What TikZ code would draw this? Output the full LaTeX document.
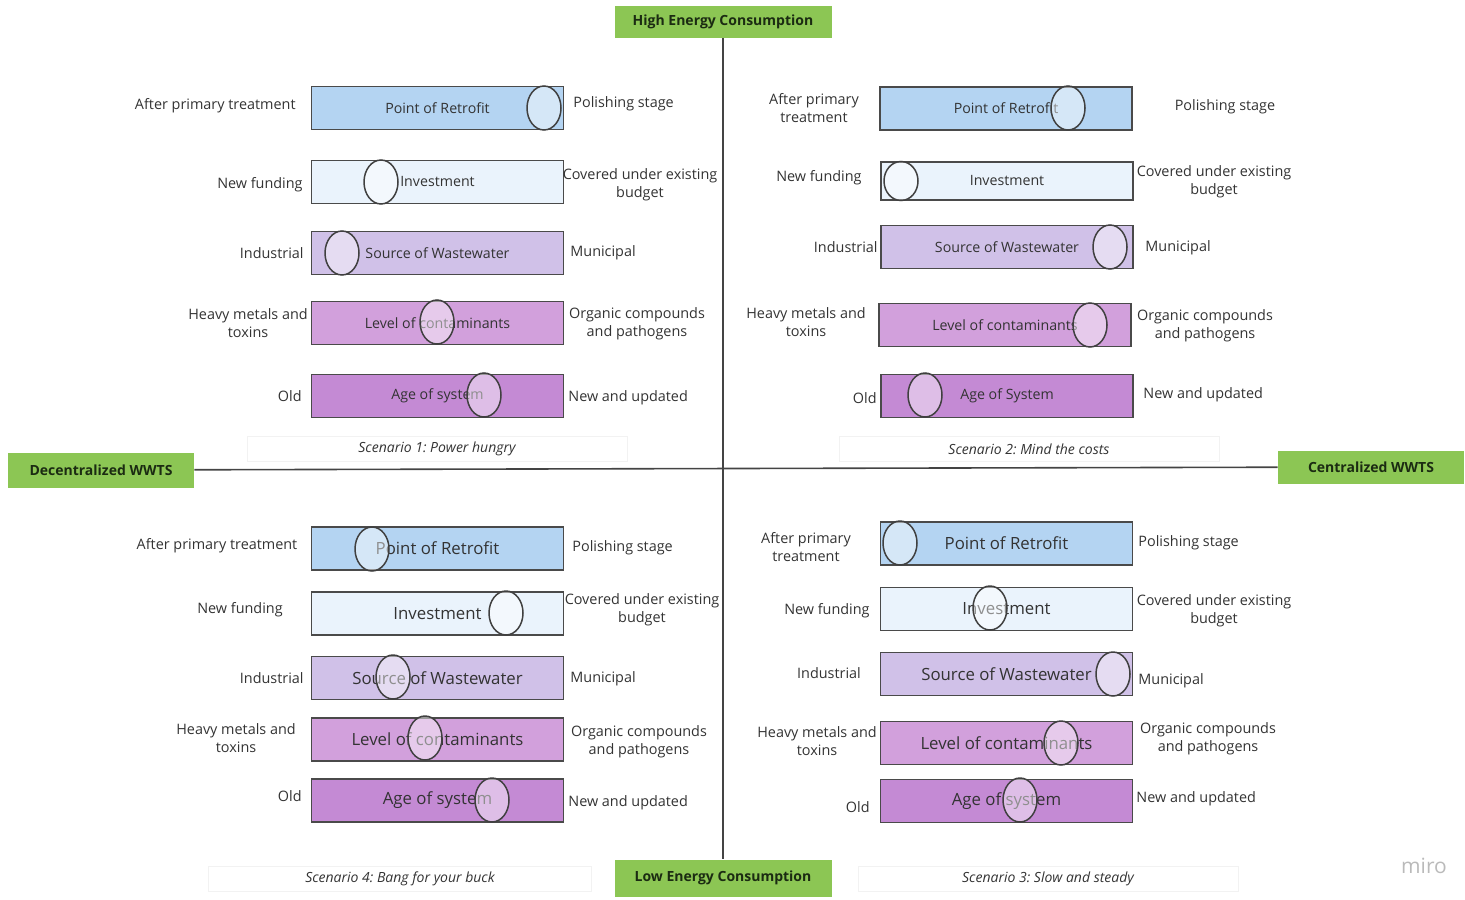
\documentclass[tikz,border=0pt]{standalone}
\usepackage{fontspec}
\setmainfont{Open Sans}
\usepackage{tikz}
\usetikzlibrary{shapes.geometric}
\frenchspacing

\definecolor{axgreen}{HTML}{8CC654}
\definecolor{axtext}{HTML}{1B2B12}
\definecolor{axisgrey}{HTML}{444444}
\definecolor{barline}{HTML}{4A4A4A}
\definecolor{bartext}{HTML}{333333}
\definecolor{retro}{HTML}{B4D4F2}
\definecolor{invest}{HTML}{EAF3FC}
\definecolor{source}{HTML}{D0C1E8}
\definecolor{level}{HTML}{D2A0DC}
\definecolor{age}{HTML}{C48AD4}

\begin{document}
\begin{tikzpicture}[x=0.5pt,y=-0.5pt,
	axisbox/.style={shape=rectangle,fill=axgreen,text=axtext,font=\fontsize{7}{8}\selectfont\bfseries,minimum width=108.5pt,minimum height=16pt,inner sep=0pt},
	axis/.style={draw=axisgrey,line width=0.8pt},
	bar/.style={shape=rectangle,draw=barline,line width=0.7pt,text=bartext,minimum width=126pt,minimum height=21.5pt,inner sep=0pt},
	small/.style={font=\fontsize{7.1}{8}\selectfont},
	big/.style={font=\fontsize{8.4}{10}\selectfont},
	knob/.style={shape=ellipse,draw=black!75,line width=0.75pt,fill=white,fill opacity=0.45,minimum width=17pt,minimum height=22pt,inner sep=0pt},
	lbl/.style={text=bartext,font=\fontsize{7.2}{9}\selectfont,align=center,inner sep=0pt},
	scen/.style={shape=rectangle,draw=black!5,text=bartext,font=\fontsize{7}{8}\selectfont\itshape,minimum width=190pt,minimum height=12.5pt,inner sep=0pt}]
	
	\useasboundingbox (0,0) rectangle (1465,899);
	
	% axes
	\node[axisbox] (high) at (723, 22)     {High Energy Consumption};
	\node[axisbox,minimum height=18.5pt] (low) at (723, 878)     {Low Energy Consumption};
	\node[axisbox,minimum width=93pt,minimum height=17.5pt] (dec) at (101, 470)     {Decentralized WWTS};
	\node[axisbox,minimum width=93pt,minimum height=16.5pt] (cen) at (1371, 467)     {Centralized WWTS};
	
	\path[-] (high) edge[axis] (low);
	\path[-] (dec) edge[axis] (cen);
	
	% scenario 1
	\node[bar,small,fill=retro] (ra) at (437.5, 108)     {Point of Retrofit};
	\node[bar,small,fill=invest] (ia) at (437.5, 182)     {Investment};
	\node[bar,small,fill=source] (sa) at (437.5, 253)     {Source of Wastewater};
	\node[bar,small,fill=level] (la) at (437.5, 323)     {Level of contaminants};
	\node[bar,small,fill=age] (aa) at (437.5, 396)     {Age of system};
	
	\node[knob] (kra) at (544, 108)     {};
	\node[knob] (kia) at (381, 182)     {};
	\node[knob] (ksa) at (342, 253)     {};
	\node[knob] (kla) at (437, 322)     {};
	\node[knob] (kaa) at (484, 395)     {};
	
	\node[lbl,anchor=east] (ra1) at (296, 106)     {After primary treatment};
	\node[lbl,anchor=east] (ia1) at (303, 185)     {New funding};
	\node[lbl,anchor=east] (sa1) at (304, 253)     {Industrial};
	\node[lbl] (la1) at (248, 323)     {Heavy metals and\\toxins};
	\node[lbl,anchor=east] (aa1) at (302, 396)     {Old};
	\node[lbl,anchor=west] (ra2) at (573, 104)     {Polishing stage};
	\node[lbl] (ia2) at (640, 185)     {Covered under existing\\budget};
	\node[lbl,anchor=west] (sa2) at (570, 253)     {Municipal};
	\node[lbl] (la2) at (637, 324)     {Organic compounds\\and pathogens};
	\node[lbl,anchor=west] (aa2) at (568, 398)     {New and updated};
	
	\node[scen] (sc1) at (437, 449)     {Scenario 1: Power hungry};
	
	% scenario 2
	\node[bar,small,fill=retro] (rb) at (1006, 108.5)     {Point of Retrofit};
	\node[bar,small,fill=invest,minimum height=19pt] (ib) at (1007, 181)     {Investment};
	\node[bar,small,fill=source] (sb) at (1007, 247)     {Source of Wastewater};
	\node[bar,small,fill=level] (lb) at (1005, 325)     {Level of contaminants};
	\node[bar,small,fill=age] (ab) at (1007, 396)     {Age of System};
	
	\node[knob] (krb) at (1068, 108)     {};
	\node[knob,minimum height=19.5pt] (kib) at (901, 181)     {};
	\node[knob] (ksb) at (1110, 247)     {};
	\node[knob] (klb) at (1090, 325)     {};
	\node[knob] (kab) at (925, 395)     {};
	
	\node[lbl] (rb1) at (814, 108)     {After primary\\treatment};
	\node[lbl,anchor=east] (ib1) at (862, 178)     {New funding};
	\node[lbl,anchor=east] (sb1) at (878, 247)     {Industrial};
	\node[lbl] (lb1) at (806, 322)     {Heavy metals and\\toxins};
	\node[lbl,anchor=east] (ab1) at (877, 398)     {Old};
	\node[lbl] (rb2) at (1225, 107)     {Polishing stage};
	\node[lbl] (ib2) at (1214, 182)     {Covered under existing\\budget};
	\node[lbl,anchor=west] (sb2) at (1145, 248)     {Municipal};
	\node[lbl] (lb2) at (1205, 326)     {Organic compounds\\and pathogens};
	\node[lbl,anchor=west] (ab2) at (1143, 395)     {New and updated};
	
	\node[scen] (sc2) at (1029, 449)     {Scenario 2: Mind the costs};
	
	% scenario 4
	\node[bar,big,fill=retro] (rd) at (437.5, 548.5)     {Point of Retrofit};
	\node[bar,big,fill=invest] (id) at (437.5, 613.5)     {Investment};
	\node[bar,big,fill=source] (sd) at (437.5, 678)     {Source of Wastewater};
	\node[bar,big,fill=level] (ld) at (437.5, 739.5)     {Level of contaminants};
	\node[bar,big,fill=age] (ad) at (437.5, 800.5)     {Age of system};
	
	\node[knob] (krd) at (372, 549)     {};
	\node[knob] (kid) at (506, 613)     {};
	\node[knob] (ksd) at (393, 677)     {};
	\node[knob] (kld) at (425, 738)     {};
	\node[knob] (kad) at (492, 800)     {};
	
	\node[lbl] (rd1) at (217, 546)     {After primary treatment};
	\node[lbl] (id1) at (240, 610)     {New funding};
	\node[lbl,anchor=east] (sd1) at (304, 678)     {Industrial};
	\node[lbl] (ld1) at (236, 738)     {Heavy metals and\\toxins};
	\node[lbl,anchor=east] (ad1) at (302, 796)     {Old};
	\node[lbl,anchor=west] (rd2) at (572, 548)     {Polishing stage};
	\node[lbl] (id2) at (642, 610)     {Covered under existing\\budget};
	\node[lbl,anchor=west] (sd2) at (570, 679)     {Municipal};
	\node[lbl] (ld2) at (639, 742)     {Organic compounds\\and pathogens};
	\node[lbl,anchor=west] (ad2) at (568, 803)     {New and updated};
	
	\node[scen,minimum width=191.5pt] (sc4) at (400, 879)     {Scenario 4: Bang for your buck};
	
	% scenario 3
	\node[bar,big,fill=retro] (rc) at (1006.5, 543.5)     {Point of Retrofit};
	\node[bar,big,fill=invest] (ic) at (1006.5, 609)     {Investment};
	\node[bar,big,fill=source] (sc) at (1006.5, 674)     {Source of Wastewater};
	\node[bar,big,fill=level] (lc) at (1006.5, 743)     {Level of contaminants};
	\node[bar,big,fill=age] (ac) at (1006.5, 801)     {Age of system};
	
	\node[knob] (krc) at (900, 543)     {};
	\node[knob] (kic) at (990, 608)     {};
	\node[knob] (ksc) at (1113, 674)     {};
	\node[knob] (klc) at (1061, 743)     {};
	\node[knob] (kac) at (1020, 800)     {};
	
	\node[lbl] (rc1) at (806, 547)     {After primary\\treatment};
	\node[lbl,anchor=east] (ic1) at (870, 611)     {New funding};
	\node[lbl] (sc1l) at (829, 673)     {Industrial};
	\node[lbl] (lc1) at (817, 741)     {Heavy metals and\\toxins};
	\node[lbl,anchor=east] (ac1) at (870, 807)     {Old};
	\node[lbl,anchor=west] (rc2) at (1138, 543)     {Polishing stage};
	\node[lbl] (ic2) at (1214, 611)     {Covered under existing\\budget};
	\node[lbl,anchor=west] (sc2l) at (1138, 681)     {Municipal};
	\node[lbl] (lc2) at (1208, 739)     {Organic compounds\\and pathogens};
	\node[lbl,anchor=west] (ac2) at (1136, 799)     {New and updated};
	
	\node[scen] (sc3) at (1048, 879)     {Scenario 3: Slow and steady};
	
	\node[text=black!27,font=\fontsize{10.5}{12}\selectfont] (miro) at (1424, 866)     {miro};
	
	\end{tikzpicture}
\end{document}
